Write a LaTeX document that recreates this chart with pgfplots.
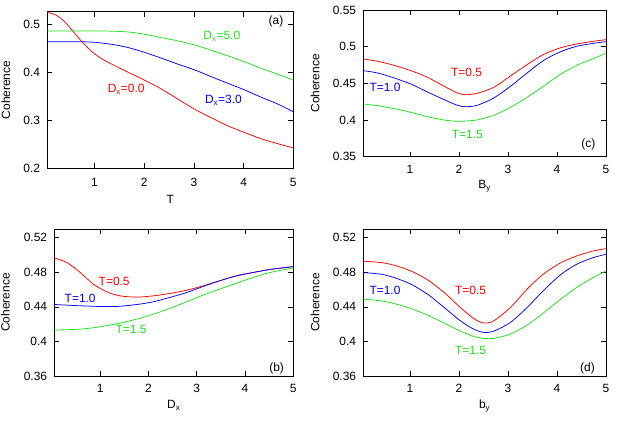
\documentclass[border=0pt]{standalone}
\usepackage{fontspec}
\setmainfont{Liberation Sans}
\usepackage{pgfplots}
\pgfplotsset{compat=1.18}

\definecolor{gred}{RGB}{255,0,0}
\definecolor{ggreen}{RGB}{30,225,30}
\definecolor{gblue}{RGB}{0,0,255}

\newcommand{\fs}{\fontsize{12}{14}\selectfont}

\tikzset{lab/.style={font=\fs, anchor=center, inner sep=0pt}}

\pgfplotsset{
  gp/.style={
    scale only axis, anchor=south west,
    xmin=0.05, xmax=5,
    xtick={1,2,3,4,5}, xticklabels={1,2,3,4,5},
    tick align=inside, tick pos=both,
    major tick length=5bp,
    minor tick num=0,
    axis line style={line width=0.8pt, black},
    every tick/.style={black, line width=0.6pt},
    /pgf/number format/assume math mode=true,
    tick label style={font=\fs, inner sep=0pt},
    xticklabel style={anchor=base, yshift=-16.5bp},
    yticklabel style={anchor=east, xshift=-7bp},
    label style={font=\fs, inner sep=0pt},
    ylabel={Coherence},
    xlabel style={anchor=base, at={(axis description cs:0.5,-0.22)}},
    every axis plot/.append style={line width=0.75pt, smooth, tension=0.5, no marks},
    clip=true,
  },
}

\begin{document}
\begin{tikzpicture}[x=1bp,y=1bp]
\useasboundingbox (0,0) rectangle (625,438);

% ---------------- (a)
\begin{axis}[gp,
  at={(47.3bp,269.7bp)}, width=246bp, height=156.6bp,
  ymin=0.2, ymax=0.5256,
  ytick={0.2,0.3,0.4,0.5}, yticklabels={0.2,0.3,0.4,0.5},
  xlabel={T},
  xticklabel style={yshift=-2.1bp},
  xlabel style={at={(axis description cs:0.5,-0.225)}},
  ylabel style={at={(axis description cs:-0.168,0.5)}, anchor=center},
]
\addplot[gred] coordinates {
(0.05,0.5240) (0.217,0.5188) (0.385,0.5063) (0.552,0.4868) (0.753,0.4625)
(0.953,0.4420) (1.154,0.4270) (1.355,0.4160) (1.689,0.3990) (2.023,0.3825)
(2.358,0.3640) (2.692,0.3430) (3.027,0.3220) (3.36,0.3045) (3.70,0.2875)
(4.03,0.2740) (4.36,0.2612) (4.70,0.2507) (5.0,0.2424)};
\addplot[ggreen] coordinates {
(0.05,0.4854) (0.6,0.4854) (1.29,0.4852) (1.689,0.4833) (2.023,0.4785)
(2.358,0.4715) (2.692,0.4646) (3.027,0.4560) (3.36,0.4451) (3.70,0.4333)
(4.03,0.4208) (4.36,0.4076) (4.70,0.3951) (5.0,0.3833)};
\addplot[gblue] coordinates {
(0.05,0.4632) (0.4,0.4632) (0.753,0.4630) (1.02,0.4618) (1.355,0.4576)
(1.689,0.4507) (2.023,0.4405) (2.358,0.4285) (2.692,0.4160) (3.027,0.4040)
(3.36,0.3900) (3.70,0.3760) (4.03,0.3625) (4.36,0.3475) (4.70,0.3330)
(5.0,0.3174)};
\node[lab] at (axis cs:4.652,0.5054) {(a)};
\node[lab, text=ggreen] at (axis cs:3.561,0.474) {D\textsubscript{x}=5.0};
\node[lab, text=gred] at (axis cs:1.637,0.3646) {D\textsubscript{x}=0.0};
\node[lab, text=gblue] at (axis cs:3.593,0.341) {D\textsubscript{x}=3.0};
\end{axis}

% ---------------- (c)
\begin{axis}[gp,
  at={(363.3bp,281.3bp)}, width=242.7bp, height=146.7bp,
  ymin=0.35, ymax=0.55,
  ytick={0.35,0.4,0.45,0.5,0.55}, yticklabels={0.35,0.4,0.45,0.5,0.55},
  xlabel={B\textsubscript{y}},
  ylabel style={at={(axis description cs:-0.199,0.5)}, anchor=center},
]
\addplot[gred] coordinates {
(0.05,0.4832) (0.345,0.4800) (0.68,0.4745) (1.02,0.4673) (1.36,0.4582)
(1.70,0.4459) (1.97,0.4368) (2.14,0.4345) (2.37,0.4364) (2.71,0.4445)
(3.05,0.4600) (3.39,0.4755) (3.72,0.4891) (4.06,0.4982) (4.40,0.5036)
(4.74,0.5073) (5.0,0.5095)};
\addplot[gblue] coordinates {
(0.05,0.4673) (0.345,0.4641) (0.68,0.4573) (1.02,0.4491) (1.36,0.4382)
(1.70,0.4277) (1.97,0.4200) (2.14,0.4182) (2.37,0.4200) (2.71,0.4300)
(3.05,0.4459) (3.39,0.4641) (3.72,0.4809) (4.06,0.4927) (4.40,0.5005)
(4.74,0.5045) (5.0,0.5068)};
\addplot[ggreen] coordinates {
(0.05,0.4218) (0.345,0.4195) (0.68,0.4155) (1.02,0.4105) (1.36,0.4045)
(1.70,0.4000) (1.97,0.3982) (2.24,0.3991) (2.37,0.4000) (2.71,0.4064)
(3.05,0.4173) (3.39,0.4309) (3.72,0.4459) (4.06,0.4618) (4.40,0.4745)
(4.74,0.4836) (5.0,0.4914)};
\node[lab, text=gred] at (axis cs:2.157,0.4645) {T=0.5};
\node[lab, text=gblue] at (axis cs:0.492,0.4445) {T=1.0};
\node[lab, text=ggreen] at (axis cs:2.171,0.381) {T=1.5};
\node[lab] at (axis cs:4.641,0.3673) {(c)};
\end{axis}

% ---------------- (b)
\begin{axis}[gp,
  at={(54.3bp,62bp)}, width=239bp, height=147bp,
  ymin=0.36, ymax=0.53,
  ytick={0.36,0.4,0.44,0.48,0.52}, yticklabels={0.36,0.4,0.44,0.48,0.52},
  xlabel={D\textsubscript{x}},
  ylabel style={at={(axis description cs:-0.205,0.5)}, anchor=center},
]
\addplot[gred] coordinates {
(0.05,0.4965) (0.31,0.4912) (0.59,0.4796) (0.86,0.4662) (1.14,0.4573)
(1.41,0.4527) (1.76,0.4512) (2.10,0.4527) (2.44,0.4554) (2.79,0.4592)
(3.13,0.4642) (3.47,0.4700) (3.82,0.4758) (4.16,0.4796) (4.51,0.4831)
(5.0,0.4865)};
\addplot[gblue] coordinates {
(0.05,0.4427) (0.59,0.4412) (1.0,0.4404) (1.34,0.4404) (1.76,0.4427)
(2.10,0.4458) (2.44,0.4508) (2.79,0.4565) (3.13,0.4635) (3.47,0.4700)
(3.82,0.4758) (4.16,0.4796) (4.51,0.4831) (5.0,0.4865)};
\addplot[ggreen] coordinates {
(0.05,0.4131) (0.59,0.4142) (1.0,0.4169) (1.41,0.4212) (1.76,0.4258)
(2.10,0.4315) (2.44,0.4381) (2.79,0.4458) (3.13,0.4535) (3.47,0.4604)
(3.82,0.4673) (4.16,0.4738) (4.51,0.4796) (5.0,0.4850)};
\node[lab, text=gred] at (axis cs:1.29,0.4691) {T=0.5};
\node[lab, text=gblue] at (axis cs:0.586,0.4498) {T=1.0};
\node[lab, text=ggreen] at (axis cs:1.641,0.4144) {T=1.5};
\node[lab] at (axis cs:4.655,0.3689) {(b)};
\end{axis}

% ---------------- (d)
\begin{axis}[gp,
  at={(363.3bp,62bp)}, width=242.7bp, height=147bp,
  ymin=0.36, ymax=0.53,
  ytick={0.36,0.4,0.44,0.48,0.52}, yticklabels={0.36,0.4,0.44,0.48,0.52},
  xlabel={b\textsubscript{y}},
  ylabel style={at={(axis description cs:-0.199,0.5)}, anchor=center},
]
\addplot[gred] coordinates {
(0.05,0.4927) (0.41,0.4912) (0.68,0.4881) (1.02,0.4815) (1.36,0.4712)
(1.70,0.4565) (2.03,0.4392) (2.30,0.4265) (2.51,0.4212) (2.71,0.4238)
(3.05,0.4392) (3.39,0.4604) (3.72,0.4777) (4.06,0.4904) (4.40,0.4988)
(4.74,0.5046) (5.0,0.5073)};
\addplot[gblue] coordinates {
(0.05,0.4796) (0.41,0.4777) (0.68,0.4738) (1.02,0.4662) (1.36,0.4546)
(1.70,0.4392) (2.03,0.4238) (2.30,0.4142) (2.51,0.4104) (2.71,0.4119)
(3.05,0.4219) (3.39,0.4392) (3.72,0.4585) (4.06,0.4765) (4.40,0.4892)
(4.74,0.4969) (5.0,0.5008)};
\addplot[ggreen] coordinates {
(0.05,0.4488) (0.41,0.4469) (0.68,0.4438) (1.02,0.4381) (1.36,0.4304)
(1.70,0.4212) (2.03,0.4119) (2.30,0.4058) (2.51,0.4035) (2.71,0.4035)
(3.05,0.4085) (3.39,0.4188) (3.72,0.4327) (4.06,0.4481) (4.40,0.4623)
(4.74,0.4738) (5.0,0.4815)};
\node[lab, text=gblue] at (axis cs:0.492,0.4595) {T=1.0};
\node[lab, text=gred] at (axis cs:2.239,0.4595) {T=0.5};
\node[lab, text=ggreen] at (axis cs:2.239,0.3901) {T=1.5};
\node[lab] at (axis cs:4.621,0.3689) {(d)};
\end{axis}
\end{tikzpicture}
\end{document}
